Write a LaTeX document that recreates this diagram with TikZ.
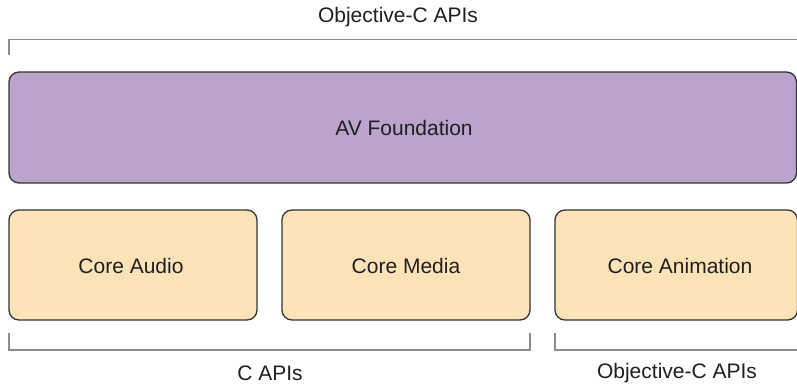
\documentclass[tikz,border=0pt]{standalone}
\usepackage{fontspec}
\setmainfont{Liberation Sans}
\begin{document}
\begin{tikzpicture}[x=1pt,y=-1pt,
  layer/.style={draw=black!80, line width=1.3pt, rounded corners=10pt},
  purplebox/.style={layer, fill=avpurple},
  orangebox/.style={layer, fill=coreorange},
  bracket/.style={draw=black!45, line width=1.4pt},
  lbl/.style={font=\fontsize{21}{25}\selectfont, text=black!88, inner sep=0pt}
]
\definecolor{avpurple}{HTML}{BAA4CE}
\definecolor{coreorange}{HTML}{FDE3B7}
\useasboundingbox (0,0) rectangle (797,385);

% framework layers
\draw[purplebox] (9,72) rectangle (796.5,183);
\node[lbl] (av) at (404,128) {AV Foundation};

\draw[orangebox] (9,210) rectangle (257,320);
\node[lbl] (audio) at (131,266) {Core Audio};
\draw[orangebox] (282,210) rectangle (530,320);
\node[lbl] (media) at (406,266) {Core Media};
\draw[orangebox] (555,210) rectangle (797.5,320);
\node[lbl] (anim) at (680,266) {Core Animation};

% API brackets
\coordinate (tl) at (9,55);
\coordinate (tc) at (9,39.5);
\coordinate (tr) at (798,39.5);
\draw[bracket] (tl) -- (tc) -- (tr);
\node[lbl] (objctop) at (398,17) {Objective-C APIs};

\coordinate (c1) at (9,333);
\coordinate (c2) at (9,350);
\coordinate (c3) at (530,350);
\coordinate (c4) at (530,333);
\draw[bracket] (c1) -- (c2) -- (c3) -- (c4);
\node[lbl] (capi) at (270,373) {C APIs};

\coordinate (o1) at (555,333);
\coordinate (o2) at (555,350);
\coordinate (o3) at (798,350);
\draw[bracket] (o1) -- (o2) -- (o3);
\node[lbl] (objcbot) at (677,373) {Objective-C APIs};
\end{tikzpicture}
\end{document}
